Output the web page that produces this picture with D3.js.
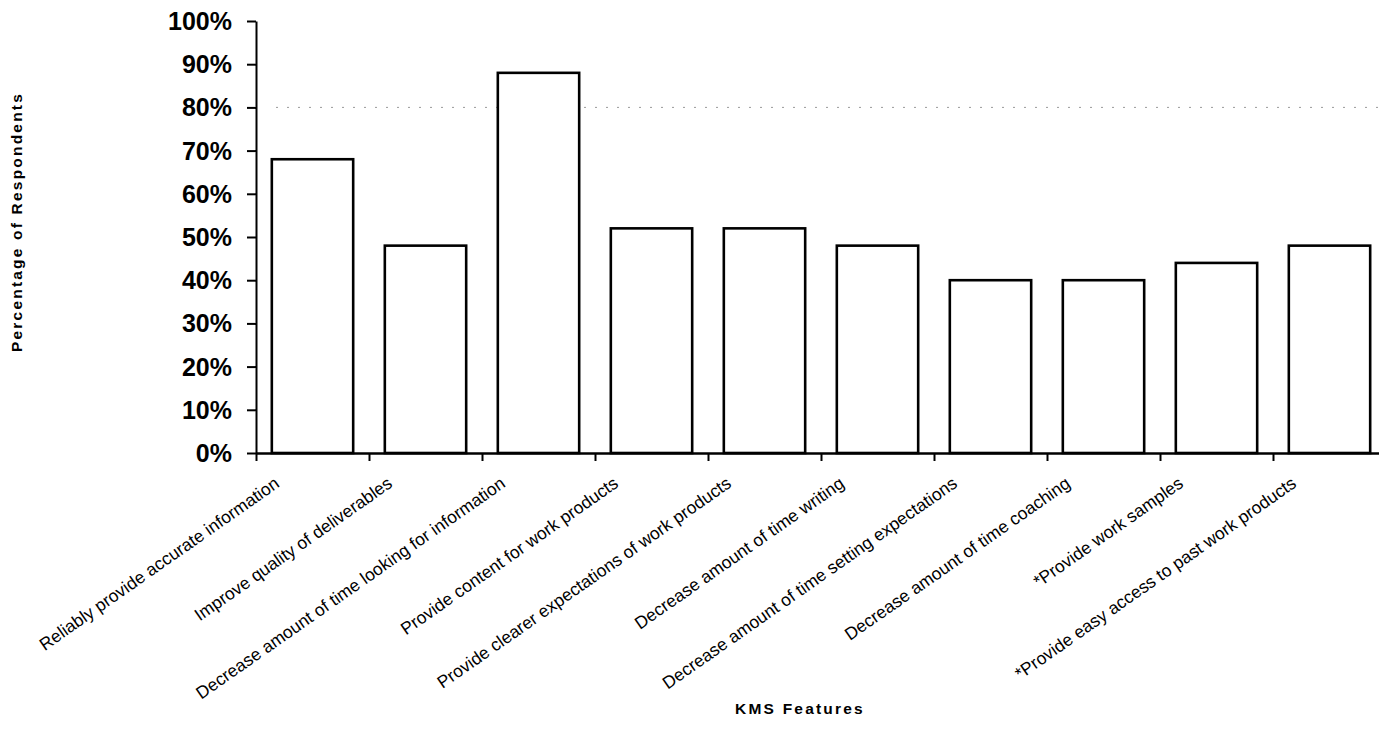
<!DOCTYPE html>
<html>
<head>
<meta charset="utf-8">
<script src="https://cdn.jsdelivr.net/npm/d3@7"></script>
<style>
  html, body { margin: 0; padding: 0; background: #fff; }
  svg { display: block; }
</style>
</head>
<body>
<svg id="chart" width="1379" height="747"></svg>
<script>
const categories = [
  "Reliably provide accurate information",
  "Improve quality of deliverables",
  "Decrease amount of time looking for information",
  "Provide content for work products",
  "Provide clearer expectations of work products",
  "Decrease amount of time writing",
  "Decrease amount of time setting expectations",
  "Decrease amount of time coaching",
  "*Provide work samples",
  "*Provide easy access to past work products"
];
const values = [0.68, 0.48, 0.88, 0.52, 0.52, 0.48, 0.40, 0.40, 0.44, 0.48];
const yTicks = [0, 0.1, 0.2, 0.3, 0.4, 0.5, 0.6, 0.7, 0.8, 0.9, 1.0];
const gridValues = [0.8];
const yTitle = "Percentage of Respondents";
const xTitle = "KMS Features";

(function () {
const svg = d3.select("#chart");
const mLeft = 256, mRight = 1386, mTop = 21, mBottom = 453;

const x = d3.scaleBand().domain(categories).range([mLeft, mRight])
  .paddingInner(0.28).paddingOuter(0.14);
const y = d3.scaleLinear().domain([0, 1]).range([mBottom, mTop]);
const xIdx = d3.scaleLinear().domain([0, categories.length]).range([mLeft, mRight]);

// faint dotted gridline (scan remnant)
svg.append("g").selectAll("line").data(gridValues).join("line")
  .attr("x1", mLeft + 20).attr("x2", mRight)
  .attr("y1", d => y(d)).attr("y2", d => y(d))
  .attr("stroke", "#9a9a9a").attr("stroke-width", 1)
  .attr("stroke-dasharray", "2 9");

// bars
svg.append("g").selectAll("rect").data(values).join("rect")
  .attr("x", (d, i) => x(categories[i]))
  .attr("y", d => y(d))
  .attr("width", x.bandwidth())
  .attr("height", d => y(0) - y(d))
  .attr("fill", "#fff")
  .attr("stroke", "#000")
  .attr("stroke-width", 2.6);

// y axis
const yAxis = d3.axisLeft(y).tickValues(yTicks).tickFormat(d3.format(".0%"))
  .tickSize(9).tickSizeOuter(0).tickPadding(15);
const gy = svg.append("g").attr("transform", `translate(${mLeft},0)`).call(yAxis);
gy.select(".domain").attr("stroke", "#000").attr("stroke-width", 2);
gy.selectAll(".tick line").attr("stroke", "#000").attr("stroke-width", 2);
gy.selectAll(".tick text")
  .attr("font-family", "Liberation Sans, Arial, sans-serif")
  .attr("font-weight", "bold").attr("font-size", 25).attr("fill", "#000")
  .attr("dy", "0.34em");

// x axis (category boundary ticks)
const xAxis = d3.axisBottom(xIdx).tickValues(d3.range(0, categories.length + 1))
  .tickFormat("").tickSize(8).tickSizeOuter(0);
const gx = svg.append("g").attr("transform", `translate(0,${mBottom})`).call(xAxis);
gx.select(".domain").attr("stroke", "#000").attr("stroke-width", 2.4);
gx.selectAll(".tick line").attr("stroke", "#000").attr("stroke-width", 2);

// x category labels
svg.append("g").selectAll("text").data(categories).join("text")
  .attr("transform", d => `translate(${x(d) + x.bandwidth() / 2 - 32},${mBottom + 33}) rotate(-35)`)
  .attr("text-anchor", "end")
  .attr("font-family", "Liberation Sans, Arial, sans-serif")
  .attr("font-size", 17.5)
  .attr("fill", "#000")
  .text(d => d);

// axis titles
svg.append("text")
  .attr("transform", `translate(22,222) rotate(-90)`)
  .attr("text-anchor", "middle")
  .attr("font-family", "Liberation Sans, Arial, sans-serif")
  .attr("font-weight", "bold").attr("font-size", 15.5)
  .attr("letter-spacing", "2.2px")
  .attr("fill", "#000")
  .text(yTitle);

svg.append("text")
  .attr("x", 800).attr("y", 714)
  .attr("text-anchor", "middle")
  .attr("font-family", "Liberation Sans, Arial, sans-serif")
  .attr("font-weight", "bold").attr("font-size", 15.5)
  .attr("letter-spacing", "2.2px")
  .attr("fill", "#000")
  .text(xTitle);
})();
</script>
</body>
</html>
